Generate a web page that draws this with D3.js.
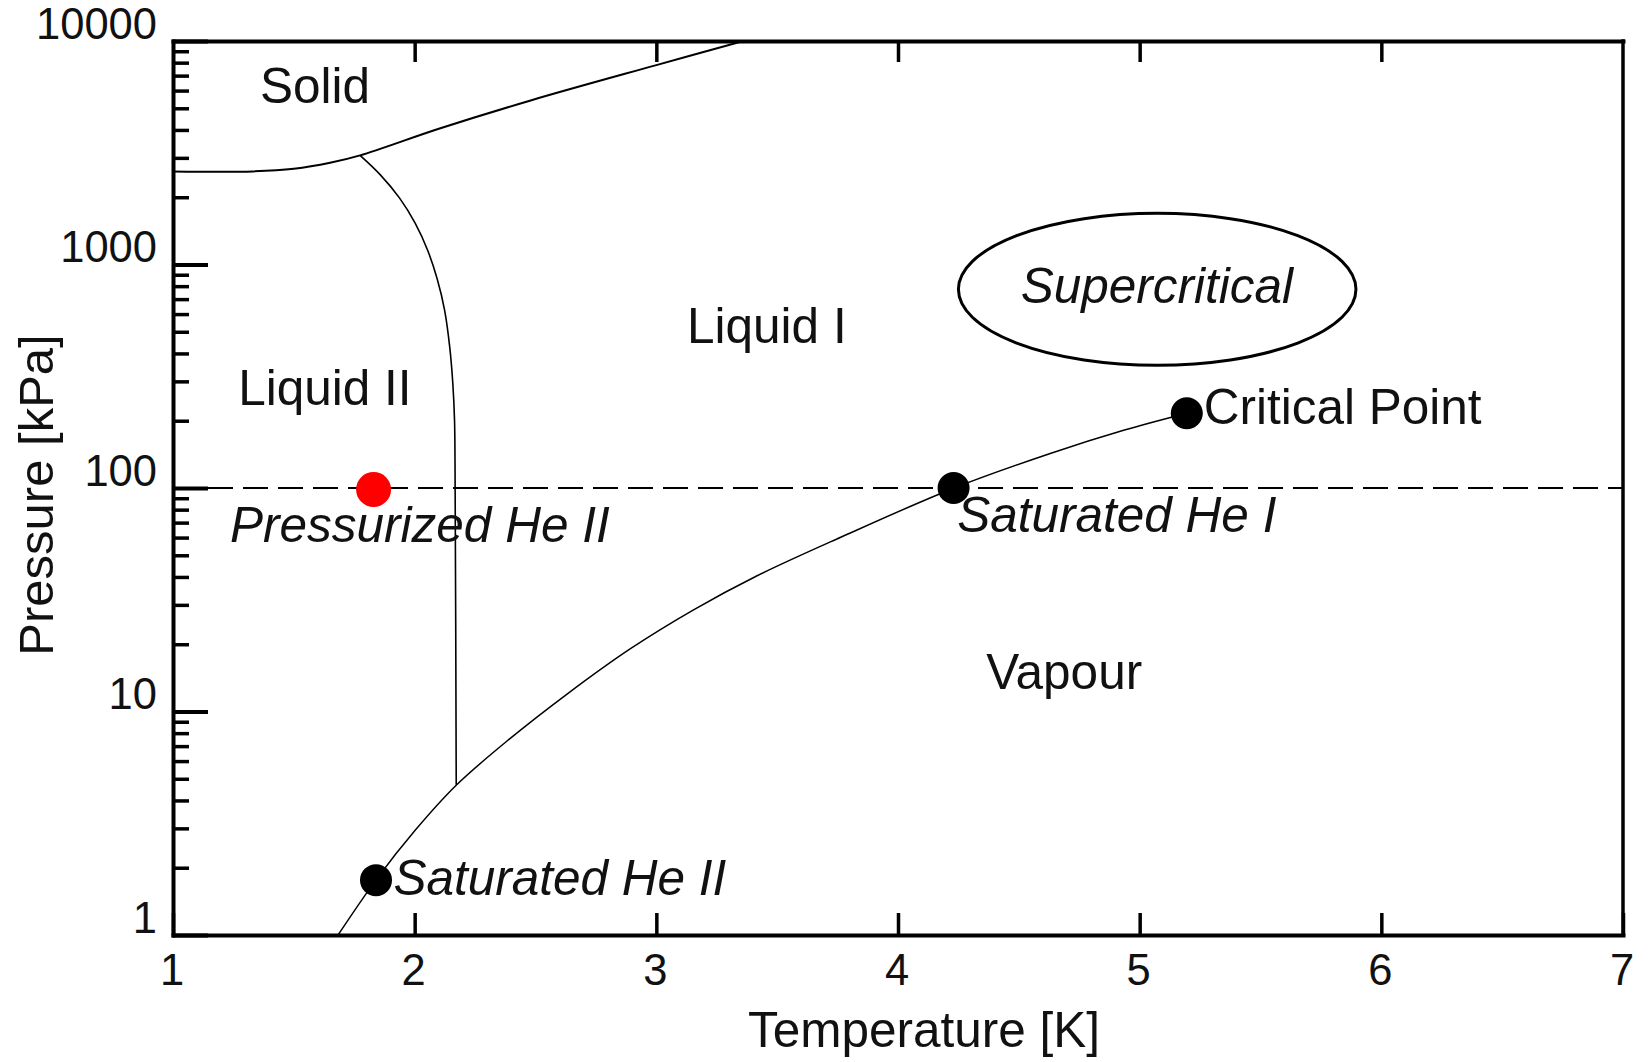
<!DOCTYPE html>
<html>
<head>
<meta charset="utf-8">
<script src="https://cdn.jsdelivr.net/npm/d3@7"></script>
<style>
  html, body { margin: 0; padding: 0; background: #fff; }
  svg { display: block; }
  text { font-family: "Liberation Sans", Arial, Helvetica, sans-serif; fill: #111; }
</style>
</head>
<body>
<svg id="chart" width="1648" height="1062"></svg>
<script>
// Helium-4 phase diagram: temperature [K] vs pressure [kPa] (log scale)

const tempTicks = [1, 2, 3, 4, 5, 6, 7];
const pressureTicks = [1, 10, 100, 1000, 10000];
const pressureMinor = [2, 3, 4, 5, 6, 7, 8, 9,
                       20, 30, 40, 50, 60, 70, 80, 90,
                       200, 300, 400, 500, 600, 700, 800, 900,
                       2000, 3000, 4000, 5000, 6000, 7000, 8000, 9000];

// Saturated vapour pressure curve [T, P]
const vapourCurve = [
  [1.683, 1.0], [1.841, 1.77], [2.002, 2.94], [2.174, 4.70], [2.393, 7.54],
  [2.632, 12.0], [2.893, 19.1], [3.154, 28.5], [3.415, 40.4], [3.763, 60.2],
  [4.233, 100], [4.633, 143], [4.937, 181.6], [5.195, 216]
];

// Lambda line (He I / He II boundary), from the solid line down to the vapour curve
const lambdaLine = [
  [1.774, 3077], [1.858, 2518], [1.937, 1986], [2.002, 1531], [2.054, 1156],
  [2.093, 863], [2.124, 624], [2.145, 428], [2.158, 292], [2.165, 200],
  [2.167, 130], [2.172, 4.7]
];

// Melting curve (solid / liquid boundary)
const meltingCurve = [
  [1.0, 2610], [1.33, 2610], [1.5, 2680], [1.65, 2850], [1.774, 3077],
  [2.1, 4050], [2.48, 5420], [3.0, 7800], [3.36, 10000]
];

// Reference isobar (1 atm)
const isobarPressure = 100;

// Marked states [T, P]
const blackPoints = [
  { name: "Saturated He II", t: 1.84, p: 1.76 },
  { name: "Saturated He I", t: 4.23, p: 100 },
  { name: "Critical Point", t: 5.195, p: 216 }
];
const redPoint = { name: "Pressurized He II", t: 1.83, p: 100 };

// Supercritical region outline (bounds in T and P)
const supercriticalBounds = { tMin: 4.25, tMax: 5.895, pMin: 354, pMax: 1694 };

// Region and state labels, anchored at [T, P] (start of baseline)
const labels = [
  { text: "Solid", t: 1.36, p: 5260, italic: false },
  { text: "Liquid II", t: 1.27, p: 234, italic: false },
  { text: "Liquid I", t: 3.127, p: 444, italic: false },
  { text: "Supercritical", t: 4.508, p: 670, italic: true },
  { text: "Critical Point", t: 5.265, p: 193, italic: false },
  { text: "Saturated He I", t: 4.245, p: 63.4, italic: true },
  { text: "Pressurized He II", t: 1.236, p: 57.3, italic: true },
  { text: "Vapour", t: 4.365, p: 12.6, italic: false },
  { text: "Saturated He II", t: 1.912, p: 1.51, italic: true }
];

const xTitle = "Temperature [K]";
const yTitle = "Pressure [kPa]";

// ---------------------------------------------------------------
const svg = d3.select("#chart");
const W = 1648, H = 1062;
const margin = { top: 41, right: 25, bottom: 127, left: 173 };
const plotL = margin.left, plotR = W - margin.right;
const plotT = margin.top, plotB = H - margin.bottom;

const x = d3.scaleLinear().domain([1, 7]).range([plotL, plotR]);
const y = d3.scaleLog().domain([1, 10000]).range([plotB, plotT]);

svg.append("defs").append("clipPath").attr("id", "plot-clip")
  .append("rect")
  .attr("x", plotL).attr("y", plotT)
  .attr("width", plotR - plotL).attr("height", plotB - plotT);

const plot = svg.append("g").attr("clip-path", "url(#plot-clip)");

// 1 atm isobar
plot.append("line")
  .attr("x1", x(1)).attr("x2", x(7))
  .attr("y1", y(isobarPressure)).attr("y2", y(isobarPressure))
  .attr("stroke", "#000").attr("stroke-width", 2)
  .attr("stroke-dasharray", "25,10");

const smooth = d3.line().x(d => x(d[0])).y(d => y(d[1])).curve(d3.curveCatmullRom.alpha(0.5));

plot.append("path").datum(meltingCurve)
  .attr("d", smooth).attr("fill", "none")
  .attr("stroke", "#000").attr("stroke-width", 2);

plot.append("path").datum(lambdaLine)
  .attr("d", smooth).attr("fill", "none")
  .attr("stroke", "#000").attr("stroke-width", 1.6);

plot.append("path").datum(vapourCurve)
  .attr("d", smooth).attr("fill", "none")
  .attr("stroke", "#000").attr("stroke-width", 1.5);

// Supercritical outline
const sb = supercriticalBounds;
plot.append("ellipse")
  .attr("cx", (x(sb.tMin) + x(sb.tMax)) / 2)
  .attr("cy", (y(sb.pMin) + y(sb.pMax)) / 2)
  .attr("rx", (x(sb.tMax) - x(sb.tMin)) / 2)
  .attr("ry", (y(sb.pMin) - y(sb.pMax)) / 2)
  .attr("fill", "none").attr("stroke", "#000").attr("stroke-width", 3);

// Points
plot.selectAll("circle.state").data(blackPoints).join("circle")
  .attr("class", "state")
  .attr("cx", d => x(d.t)).attr("cy", d => y(d.p))
  .attr("r", 16).attr("fill", "#000");

plot.append("circle")
  .attr("cx", x(redPoint.t)).attr("cy", y(redPoint.p) + 1.5)
  .attr("r", 17.5).attr("fill", "#ff0000");

// Labels
svg.append("g").selectAll("text").data(labels).join("text")
  .attr("x", d => x(d.t)).attr("y", d => y(d.p))
  .attr("font-size", 49.5)
  .attr("font-style", d => d.italic ? "italic" : "normal")
  .text(d => d.text);

// ---------------------------------------------------------------
// Axes (ticks drawn inward)
const axisStroke = g => {
  g.selectAll(".domain").attr("stroke", "#000").attr("stroke-width", 4)
    .attr("stroke-linecap", "square");
  g.selectAll(".tick line").attr("stroke", "#000");
};

// Left: minor ticks
svg.append("g").attr("transform", `translate(${plotL},0)`)
  .call(d3.axisLeft(y).tickValues(pressureMinor).tickFormat("")
    .tickSizeInner(-16).tickSizeOuter(0))
  .call(g => g.select(".domain").remove())
  .call(g => g.selectAll(".tick line").attr("stroke", "#000").attr("stroke-width", 3.5));

// Left: major ticks with labels
svg.append("g").attr("transform", `translate(${plotL},0)`)
  .call(d3.axisLeft(y).tickValues(pressureTicks).tickFormat(d3.format("d"))
    .tickSizeInner(-35).tickSizeOuter(0).tickPadding(16))
  .call(axisStroke)
  .call(g => g.selectAll(".tick line").attr("stroke-width", 4))
  .call(g => g.selectAll(".tick text")
    .attr("font-size", 43.5).attr("fill", "#111")
    .attr("font-family", "'Liberation Sans', Arial, sans-serif")
    .attr("dy", -3));

// Bottom
svg.append("g").attr("transform", `translate(0,${plotB})`)
  .call(d3.axisBottom(x).tickValues(tempTicks).tickFormat(d3.format("d"))
    .tickSizeInner(-22).tickSizeOuter(0))
  .call(axisStroke)
  .call(g => g.selectAll(".tick line").attr("stroke-width", 3.5))
  .call(g => g.selectAll(".tick text")
    .attr("font-size", 43.5).attr("fill", "#111")
    .attr("font-family", "'Liberation Sans', Arial, sans-serif")
    .attr("x", -1.5).attr("y", 50).attr("dy", 0));

// Top
svg.append("g").attr("transform", `translate(0,${plotT})`)
  .call(d3.axisTop(x).tickValues(tempTicks.slice(1, -1)).tickFormat("")
    .tickSizeInner(-21).tickSizeOuter(0))
  .call(axisStroke)
  .call(g => g.selectAll(".tick line").attr("stroke-width", 3.5));

// Right border
svg.append("line")
  .attr("x1", plotR).attr("x2", plotR).attr("y1", plotT).attr("y2", plotB)
  .attr("stroke", "#000").attr("stroke-width", 3.5).attr("stroke-linecap", "square");

// Axis titles
svg.append("text")
  .attr("x", 924).attr("y", 1047)
  .attr("text-anchor", "middle").attr("font-size", 49.5)
  .text(xTitle);

svg.append("text")
  .attr("transform", `translate(53,${(plotT + plotB) / 2 + 7}) rotate(-90)`)
  .attr("text-anchor", "middle").attr("font-size", 49)
  .text(yTitle);
</script>
</body>
</html>
